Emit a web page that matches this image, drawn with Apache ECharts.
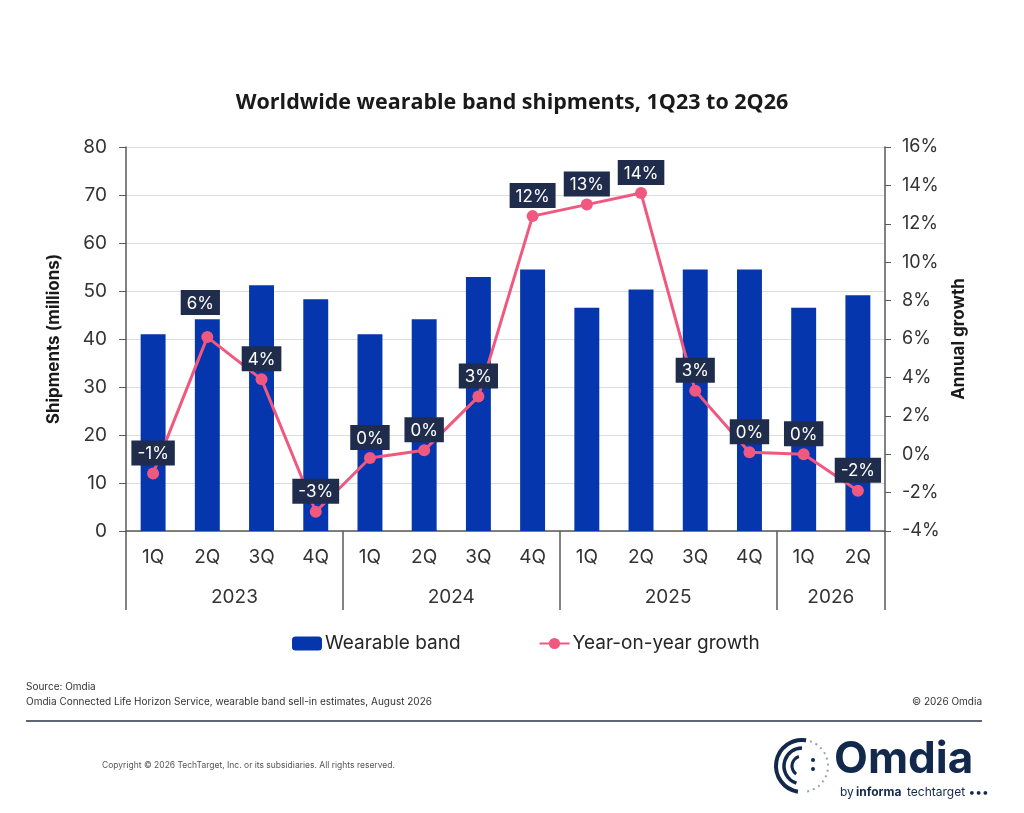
<!DOCTYPE html>
<html>
<head>
<meta charset="utf-8">
<script src="https://cdn.jsdelivr.net/npm/echarts@6/dist/echarts.min.js"></script>
<style>
  html, body { margin: 0; padding: 0; background: #ffffff; }
  #main { width: 1024px; height: 813px; }
</style>
</head>
<body>
<div id="main"></div>
<script>
// quarter labels along the bottom
var quarters = ['1Q', '2Q', '3Q', '4Q', '1Q', '2Q', '3Q', '4Q', '1Q', '2Q', '3Q', '4Q', '1Q', '2Q'];
// year groups and how many quarters each one spans
var years = ['2023', '2024', '2025', '2026'];
var quartersInYear = [4, 4, 4, 2];
// wearable band shipments, millions
var shipments = [41.0, 44.1, 51.2, 48.3, 41.0, 44.1, 52.9, 54.5, 46.5, 50.3, 54.5, 54.5, 46.5, 49.1];
// year-on-year growth, %
var growth = [-1.0, 6.1, 3.9, -3.0, -0.2, 0.2, 3.0, 12.4, 13.0, 13.6, 3.3, 0.1, 0.0, -1.9];

var FONT = 'Inter, "Noto Sans", sans-serif';
var AXIS_GREY = '#595959';

// year boundaries and year label centres on a 0..14 scale
var bounds = [0];
var centres = [];
quartersInYear.forEach(function (n) {
    var start = bounds[bounds.length - 1];
    centres.push(start + n / 2);
    bounds.push(start + n);
});

var growthData = growth.map(function (v, i) {
    var d = { value: v };
    if (i === 1) {
        d.label = { offset: [-7, -14] };
    }
    return d;
});

var chart = echarts.init(document.getElementById('main'));
chart.setOption({
    backgroundColor: '#ffffff',
    animation: false,
    title: {
        text: 'Worldwide wearable band shipments, 1Q23 to 2Q26',
        left: 'center',
        top: 87,
        textStyle: { fontFamily: '"Open Sans", sans-serif', fontSize: 21.5, fontWeight: 'bold', color: '#1a1a1a' }
    },
    legend: {
        left: 292,
        top: 634,
        padding: 0,
        itemWidth: 30,
        itemHeight: 14,
        itemGap: 78,
        textStyle: { fontFamily: FONT, fontSize: 19, color: '#262626', padding: [0, 0, 0, -2] },
        data: ['Wearable band', 'Year-on-year growth']
    },
    grid: {
        left: 126,
        right: 139,
        top: 147,
        bottom: 282,
        outerBoundsMode: 'none'
    },
    xAxis: [{
        type: 'category',
        data: quarters,
        axisLine: { onZero: false, lineStyle: { color: AXIS_GREY, width: 1.5 } },
        axisTick: { show: false },
        axisLabel: { fontFamily: FONT, fontSize: 19, color: '#333333', margin: 17 }
    }, {
        type: 'value',
        min: 0,
        max: quarters.length,
        position: 'bottom',
        offset: 79,
        axisLine: { show: false, onZero: false },
        splitLine: { show: false },
        axisTick: {
            show: true,
            inside: true,
            length: 79,
            customValues: bounds,
            lineStyle: { color: AXIS_GREY, width: 1.5 }
        },
        axisLabel: {
            inside: true,
            margin: 3,
            customValues: centres,
            formatter: function (v) {
                return years[centres.indexOf(v)];
            },
            fontFamily: FONT,
            fontSize: 19,
            color: '#333333'
        }
    }],
    yAxis: [{
        type: 'value',
        min: 0,
        max: 80,
        interval: 10,
        name: 'Shipments (millions)',
        nameLocation: 'middle',
        nameRotate: 90,
        nameGap: 64,
        nameTextStyle: { fontFamily: FONT, fontSize: 17, fontWeight: 'bold', color: '#1a1a1a' },
        axisLine: { show: true, lineStyle: { color: AXIS_GREY, width: 1.5 } },
        axisTick: { show: true, length: 7, lineStyle: { color: AXIS_GREY } },
        axisLabel: { fontFamily: FONT, fontSize: 19, color: '#333333', margin: 19 },
        splitLine: { lineStyle: { color: '#dcdcdc' } }
    }, {
        type: 'value',
        min: -4,
        max: 16,
        interval: 2,
        name: 'Annual growth',
        nameLocation: 'middle',
        nameRotate: 90,
        nameGap: 64,
        nameTextStyle: { fontFamily: FONT, fontSize: 17, fontWeight: 'bold', color: '#1a1a1a' },
        axisLine: { show: true, lineStyle: { color: AXIS_GREY, width: 1.5 } },
        axisTick: { show: true, length: 6, lineStyle: { color: AXIS_GREY } },
        axisLabel: {
            fontFamily: FONT, fontSize: 18, color: '#333333', margin: 17,
            formatter: function (v) { return v + '%'; }
        },
        splitLine: { show: false }
    }],
    series: [{
        name: 'Wearable band',
        type: 'bar',
        barWidth: '46%',
        itemStyle: { color: '#0636ad' },
        data: shipments
    }, {
        name: 'Year-on-year growth',
        type: 'line',
        yAxisIndex: 1,
        symbol: 'circle',
        symbolSize: 12,
        lineStyle: { color: '#f0587f', width: 3 },
        itemStyle: { color: '#f0587f' },
        label: {
            show: true,
            position: 'top',
            distance: 2,
            fontFamily: FONT,
            fontSize: 17,
            color: '#ffffff',
            backgroundColor: '#1f2c4c',
            padding: [5, 6, 3, 6],
            formatter: function (p) {
                var r = Math.round(p.value);
                return (r === 0 ? 0 : r) + '%';
            }
        },
        data: growthData,
        z: 5
    }],
    graphic: [
        { type: 'text', left: 26, top: 682, style: { text: 'Source: Omdia', font: '10px ' + FONT, fill: '#333333' } },
        { type: 'text', left: 26, top: 697, style: { text: 'Omdia Connected Life Horizon Service, wearable band sell-in estimates, August 2026', font: '10px ' + FONT, fill: '#333333' } },
        { type: 'text', right: 42, top: 697, style: { text: '\u00a9 2026 Omdia', font: '10px ' + FONT, fill: '#333333' } },
        { type: 'line', shape: { x1: 26, y1: 721, x2: 982, y2: 721 }, style: { stroke: '#5f6675', lineWidth: 2 } },
        { type: 'text', left: 102, top: 761, style: { text: 'Copyright \u00a9 2026 TechTarget, Inc. or its subsidiaries. All rights reserved.', font: '8.5px ' + FONT, fill: '#555555' } },
        // Omdia logo
        { type: 'arc', shape: { cx: 802, cy: 766, r: 26, startAngle: Math.PI * 0.55, endAngle: Math.PI * 1.55 }, style: { stroke: '#13294b', lineWidth: 4, fill: null } },
        { type: 'arc', shape: { cx: 802, cy: 766, r: 18, startAngle: Math.PI * 0.6, endAngle: Math.PI * 1.5 }, style: { stroke: '#13294b', lineWidth: 3.5, fill: null } },
        { type: 'arc', shape: { cx: 802, cy: 766, r: 10, startAngle: Math.PI * 0.7, endAngle: Math.PI * 1.4 }, style: { stroke: '#13294b', lineWidth: 3, fill: null } },
        { type: 'arc', shape: { cx: 802, cy: 766, r: 26, startAngle: Math.PI * 1.6, endAngle: Math.PI * 2.45 }, style: { stroke: '#9aa3b5', lineWidth: 2, lineDash: [2, 4], fill: null } },
        { type: 'circle', shape: { cx: 813, cy: 760, r: 2 }, style: { fill: '#13294b' } },
        { type: 'circle', shape: { cx: 813, cy: 769, r: 2 }, style: { fill: '#13294b' } },
        { type: 'text', left: 834, top: 738, style: { text: 'Omdia', font: 'bold 44px ' + FONT, fill: '#13294b' } },
        { type: 'text', left: 840, top: 786, style: { text: 'by', font: '12px ' + FONT, fill: '#13294b' } },
        { type: 'text', left: 856, top: 786, style: { text: 'informa', font: 'bold 12px ' + FONT, fill: '#13294b' } },
        { type: 'text', left: 907, top: 786, style: { text: 'techtarget \u2022\u2022\u2022', font: '12px ' + FONT, fill: '#13294b' } }
    ]
});
</script>
</body>
</html>
